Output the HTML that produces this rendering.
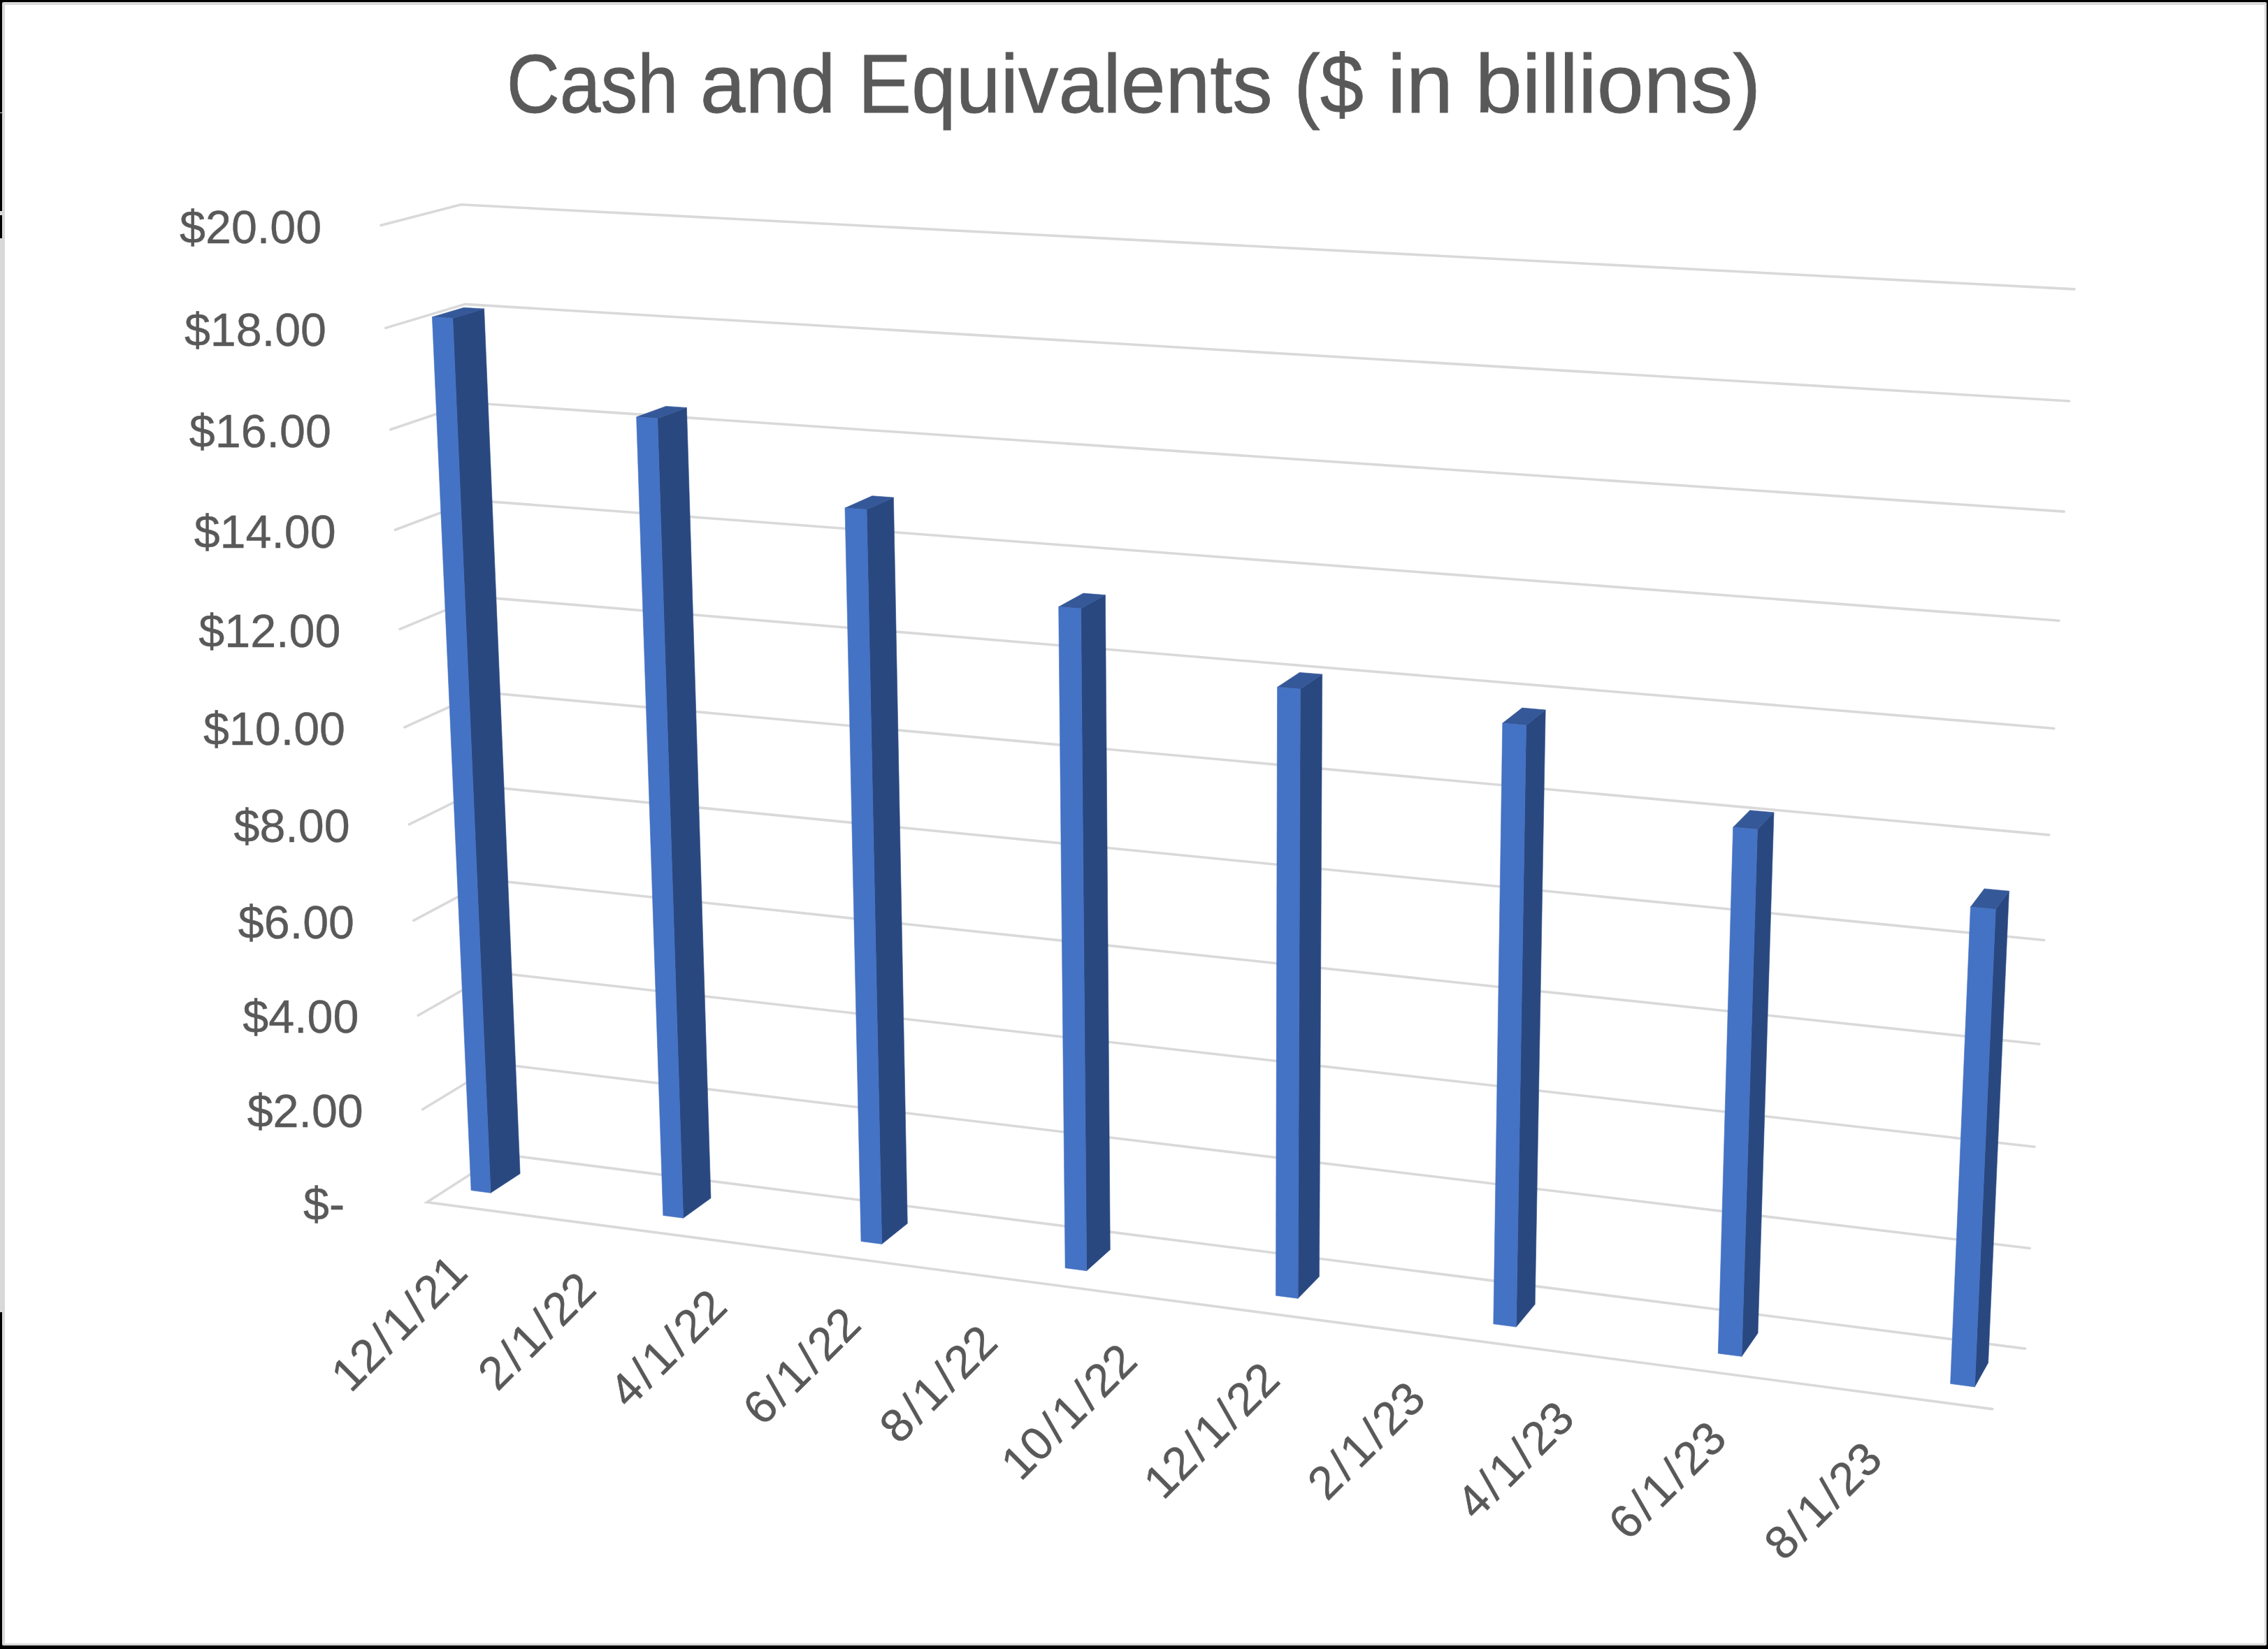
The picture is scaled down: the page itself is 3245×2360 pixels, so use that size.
<!DOCTYPE html>
<html><head><meta charset="utf-8"><title>Cash and Equivalents</title>
<style>
html,body{margin:0;padding:0;background:#fff;}
body{width:3245px;height:2360px;position:relative;overflow:hidden;font-family:"Liberation Sans",sans-serif;}
.b{position:absolute;}
</style></head><body>
<!-- outer frame -->
<div class="b" style="left:0;top:0;width:3245px;height:2360px;background:#000"></div>
<div class="b" style="left:3px;top:3px;width:3240px;height:2352px;background:#d9d9d9;border-radius:2px"></div>
<div class="b" style="left:0;top:161px;width:4px;height:1px;background:#d9d9d9"></div>
<div class="b" style="left:0;top:302px;width:4px;height:6px;background:#d9d9d9"></div>
<div class="b" style="left:0;top:341px;width:4px;height:1537px;background:#d9d9d9"></div>
<div class="b" style="left:7px;top:7px;width:3233px;height:2345px;background:#fff"></div>
<svg width="3245" height="2360" viewBox="0 0 3245 2360" style="position:absolute;left:0;top:0">
<g fill="none" stroke="#d9d9d9" stroke-width="3.6" stroke-linecap="round" stroke-linejoin="miter" stroke-miterlimit="10">
<polyline points="604.6,1587.7 711.9,1522.5 2904.2,1786.5"/>
<polyline points="598.2,1453.2 706.4,1391.7 2910.9,1641.3"/>
<polyline points="591.8,1317.3 700.7,1259.4 2917.8,1494.3"/>
<polyline points="585.4,1179.9 695.0,1125.8 2924.7,1345.5"/>
<polyline points="578.8,1040.9 689.2,990.7 2931.7,1194.9"/>
<polyline points="572.2,900.4 683.4,854.1 2938.8,1042.5"/>
<polyline points="565.5,758.3 677.5,716.1 2946.0,888.2"/>
<polyline points="558.7,614.7 671.6,576.5 2953.2,732.1"/>
<polyline points="551.8,469.4 665.5,435.4 2960.6,574.0"/>
<polyline points="544.9,322.4 659.4,292.8 2968.0,413.9"/>
<polyline points="2850.8,2016.6 610.9,1720.6 717.5,1652.0 2897.5,1930.1"/>
</g>
<g stroke-linejoin="round">
<polygon fill="#2a4880" stroke="#2a4880" stroke-width="0.6" points="702.0,1707.3 744.1,1679.7 692.6,441.9 647.7,455.5"/>
<polygon fill="#355899" stroke="#355899" stroke-width="0.6" points="618.4,453.7 647.7,455.5 692.6,441.9 663.6,440.2"/>
<polygon fill="#4472c4" stroke="#4472c4" stroke-width="0.6" points="674.1,1703.6 702.0,1707.3 647.7,455.5 618.4,453.7"/>
<polygon fill="#2a4880" stroke="#2a4880" stroke-width="0.6" points="977.6,1743.3 1017.0,1714.8 982.4,583.4 940.7,598.9"/>
<polygon fill="#355899" stroke="#355899" stroke-width="0.6" points="910.6,596.8 940.7,598.9 982.4,583.4 952.7,581.4"/>
<polygon fill="#4472c4" stroke="#4472c4" stroke-width="0.6" points="948.8,1739.5 977.6,1743.3 940.7,598.9 910.6,596.8"/>
<polygon fill="#2a4880" stroke="#2a4880" stroke-width="0.6" points="1261.7,1780.4 1298.3,1751.1 1278.4,712.0 1240.0,729.3"/>
<polygon fill="#355899" stroke="#355899" stroke-width="0.6" points="1209.0,727.0 1240.0,729.3 1278.4,712.0 1247.8,709.7"/>
<polygon fill="#4472c4" stroke="#4472c4" stroke-width="0.6" points="1232.0,1776.6 1261.7,1780.4 1240.0,729.3 1209.0,727.0"/>
<polygon fill="#2a4880" stroke="#2a4880" stroke-width="0.6" points="1554.7,1818.7 1588.3,1788.5 1581.4,851.6 1546.5,871.0"/>
<polygon fill="#355899" stroke="#355899" stroke-width="0.6" points="1514.7,868.4 1546.5,871.0 1581.4,851.6 1550.0,849.1"/>
<polygon fill="#4472c4" stroke="#4472c4" stroke-width="0.6" points="1524.1,1814.7 1554.7,1818.7 1546.5,871.0 1514.7,868.4"/>
<polygon fill="#2a4880" stroke="#2a4880" stroke-width="0.6" points="1857.1,1858.3 1887.5,1827.0 1891.7,965.1 1860.4,986.2"/>
<polygon fill="#355899" stroke="#355899" stroke-width="0.6" points="1827.6,983.4 1860.4,986.2 1891.7,965.1 1859.4,962.4"/>
<polygon fill="#4472c4" stroke="#4472c4" stroke-width="0.6" points="1825.5,1854.2 1857.1,1858.3 1860.4,986.2 1827.6,983.4"/>
<polygon fill="#2a4880" stroke="#2a4880" stroke-width="0.6" points="2169.4,1899.1 2196.2,1866.8 2211.2,1016.0 2183.6,1038.1"/>
<polygon fill="#355899" stroke="#355899" stroke-width="0.6" points="2149.8,1035.1 2183.6,1038.1 2211.2,1016.0 2177.8,1013.1"/>
<polygon fill="#4472c4" stroke="#4472c4" stroke-width="0.6" points="2136.8,1894.8 2169.4,1899.1 2183.6,1038.1 2149.8,1035.1"/>
<polygon fill="#2a4880" stroke="#2a4880" stroke-width="0.6" points="2492.0,1941.3 2515.1,1907.9 2538.0,1162.8 2514.5,1187.1"/>
<polygon fill="#355899" stroke="#355899" stroke-width="0.6" points="2479.7,1183.9 2514.5,1187.1 2538.0,1162.8 2503.7,1159.7"/>
<polygon fill="#4472c4" stroke="#4472c4" stroke-width="0.6" points="2458.3,1936.9 2492.0,1941.3 2514.5,1187.1 2479.7,1183.9"/>
<polygon fill="#2a4880" stroke="#2a4880" stroke-width="0.6" points="2825.4,1984.9 2844.6,1950.4 2874.5,1275.3 2855.3,1301.5"/>
<polygon fill="#355899" stroke="#355899" stroke-width="0.6" points="2819.4,1298.1 2855.3,1301.5 2874.5,1275.3 2839.1,1271.9"/>
<polygon fill="#4472c4" stroke="#4472c4" stroke-width="0.6" points="2790.6,1980.3 2825.4,1984.9 2855.3,1301.5 2819.4,1298.1"/>
</g>
<g fill="#595959" stroke="#595959" stroke-width="0.4" font-family="Liberation Sans, sans-serif">
<text transform="translate(730.1 161) scale(0.8935 1)" x="-6.1" y="0" font-size="118.0" stroke="#595959" stroke-width="0.8">Cash</text>
<text transform="translate(1006.7 161) scale(0.9852 1)" x="-5.1" y="0" font-size="118.0" stroke="#595959" stroke-width="0.8">and</text>
<text transform="translate(1237.3 161) scale(0.9726 1)" x="-10.2" y="0" font-size="118.0" stroke="#595959" stroke-width="0.8">Equivalents</text>
<text transform="translate(1858.3 161) scale(0.9496 1)" x="-7.1" y="0" font-size="118.0" stroke="#595959" stroke-width="0.8">($</text>
<text transform="translate(1993.2 161) scale(1.0250 1)" x="-8.1" y="0" font-size="118.0" stroke="#595959" stroke-width="0.8">in</text>
<text transform="translate(2119.0 161) scale(1.0213 1)" x="-8.1" y="0" font-size="118.0" stroke="#595959" stroke-width="0.8">billions)</text>
<text class="yl" x="493.1" y="1745.8" font-size="66.4" text-anchor="end">$-</text>
<text class="yl" x="519.8" y="1612.9" font-size="66.4" text-anchor="end">$2.00</text>
<text class="yl" x="513.4" y="1478.4" font-size="66.4" text-anchor="end">$4.00</text>
<text class="yl" x="507.0" y="1342.5" font-size="66.4" text-anchor="end">$6.00</text>
<text class="yl" x="500.6" y="1205.1" font-size="66.4" text-anchor="end">$8.00</text>
<text class="yl" x="494.0" y="1066.1" font-size="66.4" text-anchor="end">$10.00</text>
<text class="yl" x="487.4" y="925.6" font-size="66.4" text-anchor="end">$12.00</text>
<text class="yl" x="480.7" y="783.5" font-size="66.4" text-anchor="end">$14.00</text>
<text class="yl" x="473.9" y="639.9" font-size="66.4" text-anchor="end">$16.00</text>
<text class="yl" x="467.0" y="494.6" font-size="66.4" text-anchor="end">$18.00</text>
<text class="yl" x="460.1" y="347.6" font-size="66.4" text-anchor="end">$20.00</text>
<text class="xl" transform="translate(672.1 1824.4) rotate(-45)" x="0" y="0" font-size="66.4" text-anchor="end">12<tspan dx="4.8">/</tspan><tspan dx="4.8">1</tspan><tspan dx="4.8">/</tspan><tspan dx="4.8">21</tspan></text>
<text class="xl" transform="translate(856.0 1848.7) rotate(-45)" x="0" y="0" font-size="66.4" text-anchor="end">2<tspan dx="4.8">/</tspan><tspan dx="4.8">1</tspan><tspan dx="4.8">/</tspan><tspan dx="4.8">22</tspan></text>
<text class="xl" transform="translate(1043.6 1873.5) rotate(-45)" x="0" y="0" font-size="66.4" text-anchor="end">4<tspan dx="4.8">/</tspan><tspan dx="4.8">1</tspan><tspan dx="4.8">/</tspan><tspan dx="4.8">22</tspan></text>
<text class="xl" transform="translate(1235.1 1898.8) rotate(-45)" x="0" y="0" font-size="66.4" text-anchor="end">6<tspan dx="4.8">/</tspan><tspan dx="4.8">1</tspan><tspan dx="4.8">/</tspan><tspan dx="4.8">22</tspan></text>
<text class="xl" transform="translate(1430.7 1924.7) rotate(-45)" x="0" y="0" font-size="66.4" text-anchor="end">8<tspan dx="4.8">/</tspan><tspan dx="4.8">1</tspan><tspan dx="4.8">/</tspan><tspan dx="4.8">22</tspan></text>
<text class="xl" transform="translate(1630.4 1951.1) rotate(-45)" x="0" y="0" font-size="66.4" text-anchor="end">10<tspan dx="4.8">/</tspan><tspan dx="4.8">1</tspan><tspan dx="4.8">/</tspan><tspan dx="4.8">22</tspan></text>
<text class="xl" transform="translate(1834.4 1978.0) rotate(-45)" x="0" y="0" font-size="66.4" text-anchor="end">12<tspan dx="4.8">/</tspan><tspan dx="4.8">1</tspan><tspan dx="4.8">/</tspan><tspan dx="4.8">22</tspan></text>
<text class="xl" transform="translate(2042.9 2005.6) rotate(-45)" x="0" y="0" font-size="66.4" text-anchor="end">2<tspan dx="4.8">/</tspan><tspan dx="4.8">1</tspan><tspan dx="4.8">/</tspan><tspan dx="4.8">23</tspan></text>
<text class="xl" transform="translate(2255.9 2033.7) rotate(-45)" x="0" y="0" font-size="66.4" text-anchor="end">4<tspan dx="4.8">/</tspan><tspan dx="4.8">1</tspan><tspan dx="4.8">/</tspan><tspan dx="4.8">23</tspan></text>
<text class="xl" transform="translate(2473.7 2062.5) rotate(-45)" x="0" y="0" font-size="66.4" text-anchor="end">6<tspan dx="4.8">/</tspan><tspan dx="4.8">1</tspan><tspan dx="4.8">/</tspan><tspan dx="4.8">23</tspan></text>
<text class="xl" transform="translate(2696.4 2091.9) rotate(-45)" x="0" y="0" font-size="66.4" text-anchor="end">8<tspan dx="4.8">/</tspan><tspan dx="4.8">1</tspan><tspan dx="4.8">/</tspan><tspan dx="4.8">23</tspan></text>
</g>
</svg>
</body></html>
